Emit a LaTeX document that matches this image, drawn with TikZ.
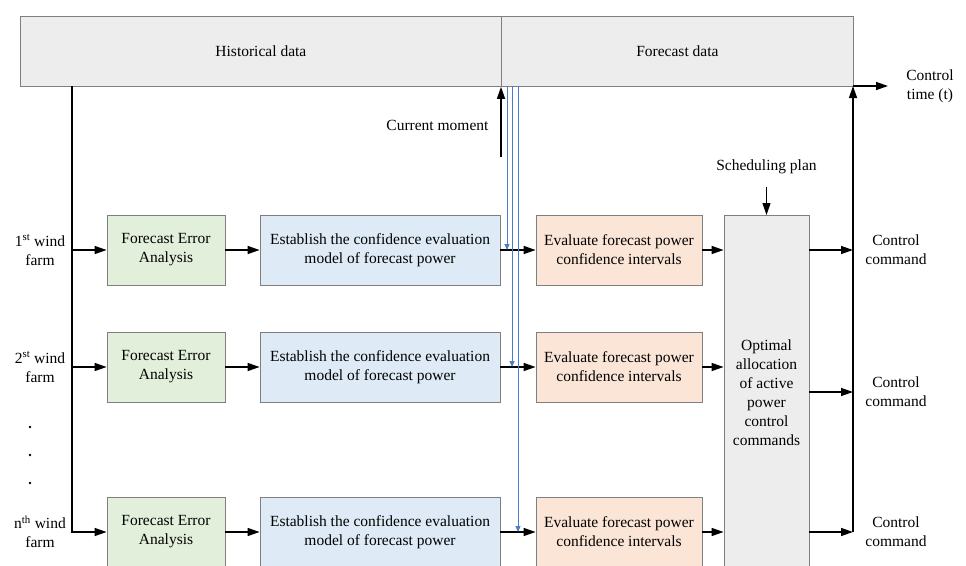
\documentclass[tikz,border=0pt]{standalone}
\usepackage{fontspec}
\setmainfont{Liberation Serif}
\usetikzlibrary{arrows.meta, positioning, calc}

\definecolor{boxgray}{HTML}{7F7F7F}
\definecolor{datagray}{HTML}{EDEDED}
\definecolor{errgreen}{HTML}{E2EFDA}
\definecolor{modelblue}{HTML}{DEEBF7}
\definecolor{intorange}{HTML}{FBE5D6}
\definecolor{feedblue}{HTML}{4A7EC8}

\tikzset{
    box/.style = {draw = boxgray, line width = 0.8pt, minimum height = 70pt, align = center, inner sep = 0pt},
    flow/.style = {-{Triangle[length = 12pt, width = 8pt]}, line width = 1.4pt},
    feed/.style = {-{Triangle[length = 6pt, width = 5pt]}, draw = feedblue, fill = feedblue, line width = 0.9pt},
}

\begin{document}
\begin{tikzpicture}[x = 1pt, y = -1pt, font = \fontsize{15.5}{19}\selectfont]
    \useasboundingbox (0, 0) rectangle (966, 565);

    \node[box, fill = datagray, minimum width = 481pt, anchor = north west] (hist) at (20, 16){Historical data};
    \node[box, fill = datagray, minimum width = 352pt, anchor = north west] (fore) at (501, 16){Forecast data};

    \foreach \i/\y/\lab in {1/250/1\textsuperscript{st}, 2/367/2\textsuperscript{st}, 3/532/n\textsuperscript{th}}{
        \node[align = center] (wf\i) at (40, \y){\lab{} wind\\farm};
        \node[box, fill = errgreen, minimum width = 118pt] (fe\i) at (166, \y){Forecast Error\\Analysis};
        \node[box, fill = modelblue, minimum width = 240pt] (cm\i) at (380, \y){Establish the confidence evaluation\\model of forecast power};
        \node[box, fill = intorange, minimum width = 166pt] (ev\i) at (619, \y){Evaluate forecast power\\confidence intervals};
        \draw[flow] (fe\i) -- (cm\i);
        \draw[flow] (cm\i) -- (ev\i);
    }
    \foreach \y in {427, 455, 483} \fill (30, \y) circle (1.3pt);

    \node[box, fill = datagray, minimum width = 85pt, minimum height = 355pt, anchor = north] (opt) at (766.5, 215){Optimal\\allocation\\of active\\power\\control\\commands};
    \foreach \i in {1, 2, 3} \draw[flow] (ev\i.east) -- (ev\i.east -| opt.west);

    % wind farm bus
    \coordinate (busL) at (72, 86);
    \draw[flow] (busL) |- (fe3);
    \draw[flow] (busL |- fe1) -- (fe1);
    \draw[flow] (busL |- fe2) -- (fe2);

    % forecast feeds
    \foreach \i/\x in {1/507, 2/512, 3/518}{
        \coordinate (f\i) at (\x, 86);
        \draw[feed] (f\i) -- (f\i |- cm\i);
    }

    \coordinate (now) at (501, 157);
    \draw[flow] (now) -- (now |- hist.south);
    \node[anchor = east] (cur) at (492, 125){Current moment};

    \node (sched) at (766.5, 167){Scheduling plan};
    \draw[flow, line width = 1pt, shorten <= 9pt] (sched.south) -- (opt.north);

    % control commands
    \coordinate (busR) at (853, 86);
    \node[align = center] (cc1) at (896, 250){Control\\command};
    \node[align = center] (cc2) at (896, 392){Control\\command};
    \node[align = center] (cc3) at (896, 532){Control\\command};
    \foreach \i in {1, 2, 3} \draw[flow] (opt.east |- cc\i) -- (busR |- cc\i);
    \draw[flow] (busR |- cc3) -- (busR);

    \node[align = center] (ctime) at (930, 86){Control\\time (t)};
    \coordinate (tEnd) at (888, 86);
    \draw[flow] (busR) -- (tEnd);
\end{tikzpicture}
\end{document}
